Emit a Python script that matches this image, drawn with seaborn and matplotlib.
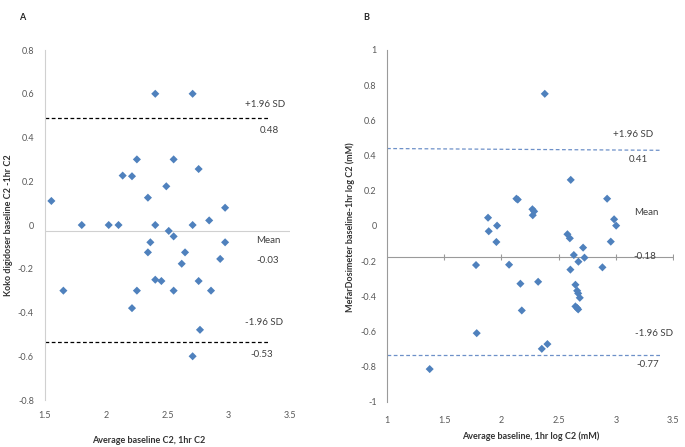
import numpy as np
import pandas as pd
import seaborn as sns
import matplotlib.pyplot as plt
from matplotlib.ticker import FuncFormatter

# panel A data (Koko digidoser)
a_avg = [1.552, 1.65, 1.80, 2.02, 2.10, 2.134, 2.21, 2.25, 2.25, 2.21, 2.34, 2.36,
         2.34, 2.40, 2.40, 2.40, 2.45, 2.49, 2.51, 2.55, 2.55, 2.55, 2.616, 2.643,
         2.705, 2.705, 2.705, 2.754, 2.754, 2.765, 2.84, 2.855, 2.93, 2.97, 2.97]
a_diff = [0.11, -0.30, 0.0, 0.0, 0.0, 0.226, 0.223, 0.30, -0.30, -0.38, 0.125, -0.079,
          -0.125, 0.60, 0.0, -0.25, -0.256, 0.177, -0.027, 0.30, -0.052, -0.30, -0.177, -0.125,
          0.60, 0.0, -0.60, 0.256, -0.256, -0.479, 0.021, -0.30, -0.155, 0.079, -0.079]
a_mean, a_upper, a_lower = -0.027, 0.488, -0.537

# panel B data (MefarDosimeter)
b_avg = [2.379, 2.606, 2.131, 2.143, 2.924, 2.271, 2.286, 2.274, 1.883, 1.889, 1.962,
         1.956, 2.985, 3.003, 2.956, 2.577, 2.598, 2.714, 2.633, 2.726, 2.673, 1.778,
         2.067, 2.883, 2.603, 2.166, 2.321, 2.647, 2.662, 2.671, 2.685, 2.647, 2.662,
         2.671, 2.178, 1.784, 2.353, 2.402, 1.373]
b_diff = [0.751, 0.262, 0.155, 0.150, 0.155, 0.095, 0.083, 0.061, 0.047, -0.030, 0.002,
          -0.091, 0.038, 0.002, -0.089, -0.047, -0.070, -0.123, -0.165, -0.180, -0.203, -0.222,
          -0.220, -0.235, -0.248, -0.328, -0.317, -0.334, -0.368, -0.383, -0.408, -0.457, -0.466,
          -0.474, -0.480, -0.609, -0.698, -0.671, -0.813]
b_mean = -0.178
b_upper = [0.44, 0.43]
b_lower = [-0.732, -0.732]

df_a = pd.DataFrame({'avg': a_avg, 'diff': a_diff})
df_b = pd.DataFrame({'avg': b_avg, 'diff': b_diff})

sns.set_style('white')
plt.rcParams['font.family'] = ['Lato', 'DejaVu Sans']

blue = '#4F81BD'
tick_col = '#595959'
txt_col = '#404040'
fmt = FuncFormatter(lambda v, p: f"{round(v, 1) + 0.0:g}")

fig = plt.figure(figsize=(6.85, 4.47), dpi=100)
ax1 = fig.add_axes([0.0657, 0.1051, 0.3577, 0.783])
ax2 = fig.add_axes([0.565, 0.1007, 0.4175, 0.7875])

# ---- panel A ----
sns.scatterplot(data=df_a, x='avg', y='diff', ax=ax1, marker='D', s=17,
                color=blue, edgecolor='none', zorder=3)
ax1.plot([1.5, 3.5], [a_mean, a_mean], color='#D0D0D0', lw=0.8, zorder=1)
ax1.plot([1.5, 3.33], [a_upper, a_upper], color='black', lw=0.9, ls=(0, (3, 2)))
ax1.plot([1.5, 3.33], [a_lower, a_lower], color='black', lw=0.9, ls=(0, (3, 2)))
ax1.set_xlim(1.5, 3.5)
ax1.set_ylim(-0.8, 0.8)
ax1.set_xticks(np.arange(1.5, 3.51, 0.5))
ax1.set_yticks(np.arange(-0.8, 0.81, 0.2))
for side in ['top', 'right', 'bottom']:
    ax1.spines[side].set_visible(False)
ax1.spines['left'].set_color('#D0D0D0')
ax1.spines['left'].set_linewidth(0.8)
ax1.tick_params(length=0, labelsize=6.5, labelcolor=tick_col, pad=8)
ax1.xaxis.set_major_formatter(fmt)
ax1.yaxis.set_major_formatter(fmt)
ax1.set_xlabel('Average baseline C2, 1hr C2', fontsize=6.5, fontweight='bold', color='#333333')
ax1.set_ylabel('Koko digidoser baseline C2 -1hr C2', fontsize=6.5, fontweight='bold', color='#333333')
ax1.xaxis.set_label_coords(0.424, -0.103)
ax1.yaxis.set_label_coords(-0.131, 0.5)
for x, y, s in [(3.30, 0.553, '+1.96 SD'), (3.33, 0.434, '0.48'), (3.32, -0.072, 'Mean'),
                (3.32, -0.163, '-0.03'), (3.29, -0.445, '-1.96 SD'), (3.27, -0.59, '-0.53')]:
    ax1.text(x, y, s, ha='center', va='center', fontsize=7, color=txt_col, clip_on=False)

# ---- panel B ----
sns.scatterplot(data=df_b, x='avg', y='diff', ax=ax2, marker='D', s=17,
                color=blue, edgecolor='none', zorder=3)
xt = np.arange(1.0, 3.51, 0.5)
ax2.plot([1.0, 3.5], [b_mean, b_mean], color='#9A9A9A', lw=0.8, zorder=1)
ax2.plot(xt[1:], [b_mean] * len(xt[1:]), ls='none', marker='|', ms=4,
         color='#9A9A9A', mew=0.8, zorder=1)
ax2.plot([1.0, 3.4], b_upper, color='#6D90C8', lw=0.9, ls=(0, (3, 2)))
ax2.plot([1.0, 3.4], b_lower, color='#6D90C8', lw=0.9, ls=(0, (3, 2)))
ax2.set_xlim(1.0, 3.5)
ax2.set_ylim(-1.0, 1.0)
ax2.set_xticks(xt)
ax2.set_yticks(np.arange(-1.0, 1.01, 0.2))
for side in ['top', 'right', 'bottom']:
    ax2.spines[side].set_visible(False)
ax2.spines['left'].set_color('#9A9A9A')
ax2.spines['left'].set_linewidth(0.8)
ax2.tick_params(axis='y', length=2.5, width=0.8, color='#9A9A9A', labelsize=6.5,
                labelcolor=tick_col, pad=5)
ax2.tick_params(axis='x', length=0, labelsize=6.5, labelcolor=tick_col, pad=10)
ax2.xaxis.set_major_formatter(fmt)
ax2.yaxis.set_major_formatter(fmt)
ax2.set_xlabel('Average baseline, 1hr log C2 (mM)', fontsize=6.5, fontweight='bold', color='#333333')
ax2.set_ylabel('MefarDosimeter baseline-1hr log C2 (mM)', fontsize=6.5, fontweight='bold', color='#333333')
ax2.xaxis.set_label_coords(0.502, -0.085)
ax2.yaxis.set_label_coords(-0.112, 0.497)
for x, y, s in [(3.155, 0.521, '+1.96 SD'), (3.20, 0.375, '0.41'), (3.27, 0.076, 'Mean'),
                (3.25, -0.176, '-0.18'), (3.33, -0.61, '-1.96 SD'), (3.28, -0.785, '-0.77')]:
    ax2.text(x, y, s, ha='center', va='center', fontsize=7, color=txt_col, clip_on=False)

fig.text(22 / 685, 1 - 17 / 447, 'A', fontsize=6.5, fontweight='bold', ha='center', va='center')
fig.text(366 / 685, 1 - 17 / 447, 'B', fontsize=6.5, fontweight='bold', ha='center', va='center')

fig.savefig('out.png', dpi=100)
